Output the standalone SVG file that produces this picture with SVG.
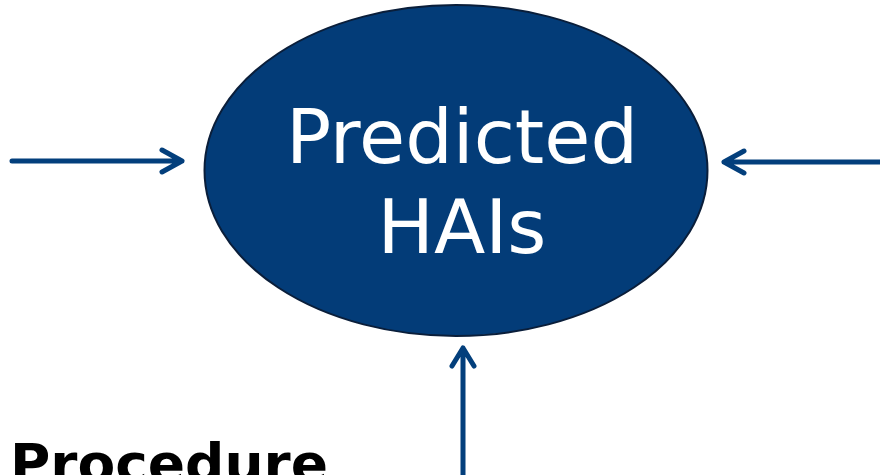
<svg xmlns="http://www.w3.org/2000/svg" width="880" height="475" viewBox="0 0 880 475">
<style>
.conn{stroke:#033f7c;stroke-width:5;fill:none;stroke-linecap:round;stroke-linejoin:round}
.lbl{font-family:"DejaVu Sans","Liberation Sans",sans-serif;fill:#ffffff;font-size:75px;text-anchor:middle}
.title{font-family:"DejaVu Sans","Liberation Sans",sans-serif;font-weight:bold;fill:#000;font-size:54px}
</style>
<rect width="880" height="475" fill="#ffffff"/>
<g id="node-hais">
<ellipse cx="456" cy="170.5" rx="251.5" ry="165.5" fill="#033c78" stroke="#0a1e3a" stroke-width="2"/>
<text class="lbl" x="462" y="163">Predicted</text>
<text class="lbl" x="462" y="253">HAIs</text>
</g>
<g id="connectors">
<path class="conn" d="M12 161 H182 M162 150 L182 161 L162 172"/>
<path class="conn" d="M880 162 H724 M744 151 L724 162 L744 173"/>
<path class="conn" d="M463 475 V348 M452 366 L463 348 L474 366"/>
</g>
<g id="node-procedure">
<text class="title" x="10" y="482" textLength="318" lengthAdjust="spacingAndGlyphs">Procedure</text>
</g>
</svg>
